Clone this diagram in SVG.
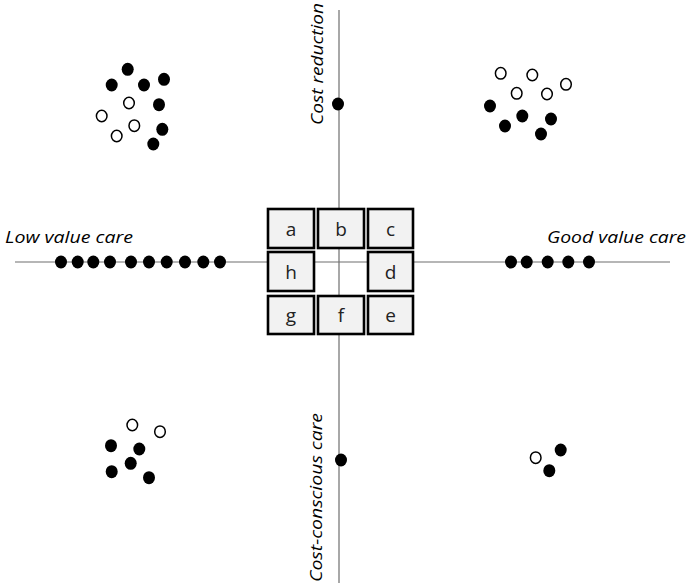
<svg xmlns="http://www.w3.org/2000/svg" width="690" height="585" viewBox="0 0 690 585">
<style>
.ax{stroke:#6e6e6e;stroke-width:1.2;fill:none}
.f{fill:#000}
.o{fill:#fff;stroke:#000;stroke-width:1.5}
.box{fill:#f2f2f2;stroke:#000;stroke-width:2.6}
.bt{font-family:"Open Sans","Liberation Sans",sans-serif;font-size:19px;fill:#222;text-anchor:middle}
.lab{font-family:"Open Sans","Liberation Sans",sans-serif;font-style:italic;font-size:17px;fill:#000}
</style>
<rect width="690" height="585" fill="#fff"/>
<g id="connectors">
<line class="ax" x1="339" y1="10" x2="339" y2="583"/>
<line class="ax" x1="15" y1="262" x2="670" y2="262"/>
</g>
<g id="labels">
<text class="lab" transform="translate(323,125) rotate(-90)" textLength="122" lengthAdjust="spacingAndGlyphs">Cost reduction</text>
<text class="lab" transform="translate(322,582) rotate(-90)" textLength="169" lengthAdjust="spacingAndGlyphs">Cost-conscious care</text>
<text class="lab" x="5" y="243" textLength="128" lengthAdjust="spacingAndGlyphs">Low value care</text>
<text class="lab" x="547" y="243" textLength="139" lengthAdjust="spacingAndGlyphs">Good value care</text>
</g>
<g id="box-a"><rect class="box" x="268" y="209" width="46" height="39"/><text class="bt" x="291" y="236">a</text></g>
<g id="box-b"><rect class="box" x="318" y="209" width="46" height="39"/><text class="bt" x="341" y="236">b</text></g>
<g id="box-c"><rect class="box" x="368" y="209" width="45" height="39"/><text class="bt" x="390.5" y="236">c</text></g>
<g id="box-h"><rect class="box" x="268" y="252" width="46" height="39"/><text class="bt" x="291" y="279">h</text></g>
<g id="box-d"><rect class="box" x="368" y="252" width="45" height="39"/><text class="bt" x="390.5" y="279">d</text></g>
<g id="box-g"><rect class="box" x="268" y="296" width="46" height="38"/><text class="bt" x="291" y="322">g</text></g>
<g id="box-f"><rect class="box" x="318" y="296" width="46" height="38"/><text class="bt" x="341" y="322">f</text></g>
<g id="box-e"><rect class="box" x="368" y="296" width="45" height="38"/><text class="bt" x="390.5" y="322">e</text></g>
<g id="dots-axes">
<ellipse class="f" cx="338" cy="104" rx="6" ry="6.5"/>
<ellipse class="f" cx="341" cy="460" rx="6" ry="6.5"/>
</g>
<g id="cluster-top-left">
<ellipse class="f" cx="127.7" cy="69.3" rx="6" ry="6.5"/>
<ellipse class="f" cx="111.7" cy="85" rx="6" ry="6.5"/>
<ellipse class="f" cx="144" cy="85" rx="6" ry="6.5"/>
<ellipse class="f" cx="164" cy="79.3" rx="6" ry="6.5"/>
<ellipse class="f" cx="159" cy="104.7" rx="6" ry="6.5"/>
<ellipse class="f" cx="162.3" cy="129.3" rx="6" ry="6.5"/>
<ellipse class="f" cx="153.3" cy="144" rx="6" ry="6.5"/>
<ellipse class="o" cx="129" cy="103" rx="5.3" ry="5.8"/>
<ellipse class="o" cx="101.7" cy="116" rx="5.3" ry="5.8"/>
<ellipse class="o" cx="134.3" cy="125.7" rx="5.3" ry="5.8"/>
<ellipse class="o" cx="116.7" cy="136" rx="5.3" ry="5.8"/>
</g>
<g id="cluster-top-right">
<ellipse class="o" cx="500.7" cy="73.3" rx="5.3" ry="5.8"/>
<ellipse class="o" cx="532.3" cy="75" rx="5.3" ry="5.8"/>
<ellipse class="o" cx="566" cy="84.3" rx="5.3" ry="5.8"/>
<ellipse class="o" cx="516.7" cy="93.3" rx="5.3" ry="5.8"/>
<ellipse class="o" cx="547" cy="94" rx="5.3" ry="5.8"/>
<ellipse class="f" cx="490" cy="106" rx="6" ry="6.5"/>
<ellipse class="f" cx="505" cy="126" rx="6" ry="6.5"/>
<ellipse class="f" cx="522.3" cy="116" rx="6" ry="6.5"/>
<ellipse class="f" cx="551" cy="119" rx="6" ry="6.5"/>
<ellipse class="f" cx="541" cy="134" rx="6" ry="6.5"/>
</g>
<g id="row-left">
<ellipse class="f" cx="61" cy="262" rx="6" ry="6.5"/>
<ellipse class="f" cx="77.7" cy="262" rx="6" ry="6.5"/>
<ellipse class="f" cx="93.3" cy="262" rx="6" ry="6.5"/>
<ellipse class="f" cx="110" cy="262" rx="6" ry="6.5"/>
<ellipse class="f" cx="131" cy="262" rx="6" ry="6.5"/>
<ellipse class="f" cx="149" cy="262" rx="6" ry="6.5"/>
<ellipse class="f" cx="166.7" cy="262" rx="6" ry="6.5"/>
<ellipse class="f" cx="185" cy="262" rx="6" ry="6.5"/>
<ellipse class="f" cx="203.3" cy="262" rx="6" ry="6.5"/>
<ellipse class="f" cx="220" cy="262" rx="6" ry="6.5"/>
</g>
<g id="row-right">
<ellipse class="f" cx="511" cy="262" rx="6" ry="6.5"/>
<ellipse class="f" cx="526.7" cy="262" rx="6" ry="6.5"/>
<ellipse class="f" cx="547.7" cy="262" rx="6" ry="6.5"/>
<ellipse class="f" cx="568.3" cy="262" rx="6" ry="6.5"/>
<ellipse class="f" cx="589" cy="262" rx="6" ry="6.5"/>
</g>
<g id="cluster-bottom-left">
<ellipse class="o" cx="132.3" cy="425" rx="5.3" ry="5.8"/>
<ellipse class="o" cx="160" cy="431.7" rx="5.3" ry="5.8"/>
<ellipse class="f" cx="111" cy="445.7" rx="6" ry="6.5"/>
<ellipse class="f" cx="139.3" cy="449" rx="6" ry="6.5"/>
<ellipse class="f" cx="130.7" cy="463.3" rx="6" ry="6.5"/>
<ellipse class="f" cx="111.7" cy="471.7" rx="6" ry="6.5"/>
<ellipse class="f" cx="149" cy="477.7" rx="6" ry="6.5"/>
</g>
<g id="cluster-bottom-right">
<ellipse class="o" cx="535.7" cy="457.7" rx="5.3" ry="5.8"/>
<ellipse class="f" cx="560.7" cy="450" rx="6" ry="6.5"/>
<ellipse class="f" cx="549.3" cy="470.7" rx="6" ry="6.5"/>
</g>
</svg>
